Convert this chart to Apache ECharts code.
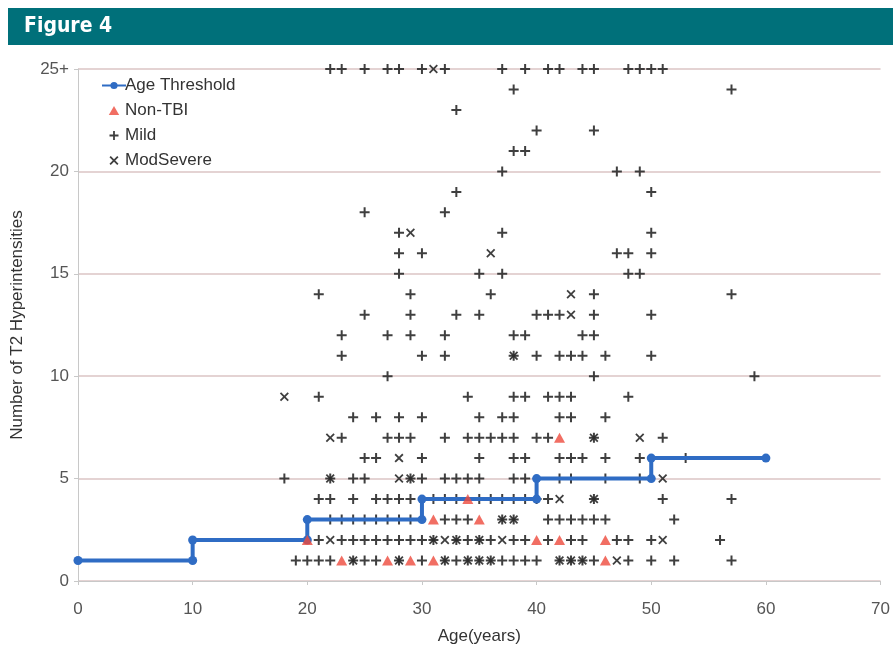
<!DOCTYPE html>
<html><head><meta charset="utf-8">
<script src="https://cdn.jsdelivr.net/npm/echarts@6/dist/echarts.min.js"></script>
<style>html,body{margin:0;padding:0;background:#fff}#c{width:893px;height:650px}</style>
</head><body><div id="c"></div>
<script>
const xTicks = [0,10,20,30,40,50,60,70];
const yTickLabels = ['0','5','10','15','20','25+'];
const thresholdAges = [0,10,10,20,20,30,30,40,40,50,50,60];
const thresholdCounts = [1,1,2,2,3,3,4,4,5,5,6,6];
const mildPoints = [
[22,25],[23,25],[25,25],[27,25],[28,25],[30,25],[32,25],[37,25],[39,25],[41,25],[42,25],[44,25],[45,25],[48,25],[49,25],[50,25],[51,25],
[38,24],[57,24],[33,23],[40,22],[45,22],[38,21],[39,21],[37,20],[47,20],[49,20],[33,19],[50,19],[25,18],[32,18],
[28,17],[37,17],[50,17],[28,16],[30,16],[47,16],[48,16],[50,16],[28,15],[35,15],[37,15],[48,15],[49,15],
[21,14],[29,14],[36,14],[45,14],[57,14],
[25,13],[29,13],[33,13],[35,13],[40,13],[41,13],[42,13],[45,13],[50,13],
[23,12],[27,12],[29,12],[32,12],[38,12],[39,12],[44,12],[45,12],
[23,11],[30,11],[32,11],[38,11],[40,11],[42,11],[43,11],[44,11],[46,11],[50,11],
[27,10],[45,10],[59,10],
[21,9],[34,9],[38,9],[39,9],[41,9],[42,9],[43,9],[48,9],
[24,8],[26,8],[28,8],[30,8],[35,8],[37,8],[38,8],[42,8],[43,8],[46,8],
[23,7],[27,7],[28,7],[29,7],[32,7],[34,7],[35,7],[36,7],[37,7],[38,7],[40,7],[41,7],[45,7],[51,7],
[25,6],[26,6],[30,6],[35,6],[38,6],[39,6],[42,6],[43,6],[44,6],[46,6],[49,6],[53,6],
[18,5],[22,5],[24,5],[25,5],[29,5],[30,5],[32,5],[33,5],[34,5],[35,5],[38,5],[39,5],[42,5],[43,5],[46,5],[49,5],
[21,4],[22,4],[24,4],[26,4],[27,4],[28,4],[29,4],[31,4],[32,4],[33,4],[35,4],[36,4],[37,4],[38,4],[39,4],[40,4],[41,4],[45,4],[51,4],[57,4],
[22,3],[23,3],[24,3],[25,3],[26,3],[27,3],[28,3],[29,3],[32,3],[33,3],[34,3],[37,3],[38,3],[41,3],[42,3],[43,3],[44,3],[45,3],[46,3],[52,3],
[21,2],[23,2],[24,2],[25,2],[26,2],[27,2],[28,2],[29,2],[30,2],[31,2],[33,2],[34,2],[35,2],[36,2],[38,2],[39,2],[41,2],[43,2],[44,2],[47,2],[48,2],[50,2],[56,2],
[19,1],[20,1],[21,1],[22,1],[24,1],[25,1],[26,1],[28,1],[30,1],[32,1],[33,1],[34,1],[35,1],[36,1],[37,1],[38,1],[39,1],[40,1],[42,1],[43,1],[44,1],[45,1],[48,1],[50,1],[52,1],[57,1]
];
const modSeverePoints = [
[31,25],[29,17],[36,16],[43,14],[43,13],[38,11],[18,9],[22,7],[45,7],[49,7],[28,6],
[22,5],[28,5],[29,5],[51,5],[42,4],[45,4],[37,3],[38,3],
[22,2],[31,2],[32,2],[33,2],[35,2],[37,2],[51,2],
[24,1],[28,1],[32,1],[34,1],[35,1],[36,1],[42,1],[43,1],[44,1],[47,1]
];
const nonTbiPoints = [
[42,7],[34,4],[31,3],[35,3],[20,2],[40,2],[42,2],[46,2],[23,1],[27,1],[29,1],[31,1],[46,1]
];

const plusPath = 'path://M4,0 L6,0 L6,4 L10,4 L10,6 L6,6 L6,10 L4,10 L4,6 L0,6 L0,4 L4,4 Z';
const crossPath = 'path://M1.4,0 L5,3.6 L8.6,0 L10,1.4 L6.4,5 L10,8.6 L8.6,10 L5,6.4 L1.4,10 L0,8.6 L3.6,5 L0,1.4 Z';
const triPath = 'path://M5,0 L10,8.7 L0,8.7 Z';
const chart = echarts.init(document.getElementById('c'));
chart.setOption({
  backgroundColor:'#fff',
  animation:false,
  textStyle:{fontFamily:'Liberation Sans, Arial, sans-serif'},
  graphic:[
    {type:'rect', shape:{x:8,y:8,width:885,height:37}, style:{fill:'#00707a'}},
    {type:'text', left:24, top:16, style:{text:'Figure 4', fill:'#fff', font:'bold 21px "Liberation Sans Narrow", "DejaVu Sans Condensed", sans-serif'}}
  ],
  grid:{left:78, right:11, top:69, bottom:68},
  legend:{
    orient:'vertical', left:96, top:72, itemGap:8, itemWidth:24, itemHeight:9,
    symbolKeepAspect:true,
    textStyle:{fontSize:17, color:'#333', padding:[0,0,0,-6]},
    data:[
      {name:'Age Threshold'},
      {name:'Non-TBI', icon:triPath},
      {name:'Mild', icon:plusPath},
      {name:'ModSevere', icon:crossPath}
    ]
  },
  xAxis:{
    type:'value', min:0, max:70, interval:10,
    name:'Age(years)', nameLocation:'middle', nameGap:47,
    nameTextStyle:{fontSize:17, color:'#333'},
    axisLine:{show:true, lineStyle:{color:'#c8c8c8'}},
    axisTick:{show:true, length:4, lineStyle:{color:'#c8c8c8'}},
    axisLabel:{fontSize:17, color:'#555', margin:20},
    splitLine:{show:false}
  },
  yAxis:{
    type:'value', min:0, max:25, interval:5,
    name:'Number of T2 Hyperintensities', nameLocation:'middle', nameGap:52,
    nameTextStyle:{fontSize:17, color:'#333'},
    axisLine:{show:true, lineStyle:{color:'#c8c8c8'}},
    axisTick:{show:true, length:4, lineStyle:{color:'#c8c8c8'}},
    axisLabel:{fontSize:17, color:'#555', margin:9, formatter:(v)=>yTickLabels[Math.round(v/5)]},
    splitLine:{show:true, lineStyle:{color:'#dbc4c4', width:1.5}}
  },
  series:[
    {name:'Mild', type:'scatter', symbol:plusPath, symbolSize:10, z:3,
     itemStyle:{color:'#2a2a2a', opacity:0.9}, data:mildPoints},
    {name:'ModSevere', type:'scatter', symbol:crossPath, symbolSize:9, z:3,
     itemStyle:{color:'#2a2a2a', opacity:0.9}, data:modSeverePoints},
    {name:'Age Threshold', type:'line', symbol:'circle', symbolSize:9, z:4,
     lineStyle:{color:'#2f6cc4', width:4}, itemStyle:{color:'#2f6cc4'},
     data:thresholdAges.map((a,i)=>[a,thresholdCounts[i]])},
    {name:'Non-TBI', type:'scatter', symbol:triPath, symbolSize:[11,10], z:5,
     itemStyle:{color:'#ee4a3c'}, data:nonTbiPoints}
  ]
});
</script></body></html>
